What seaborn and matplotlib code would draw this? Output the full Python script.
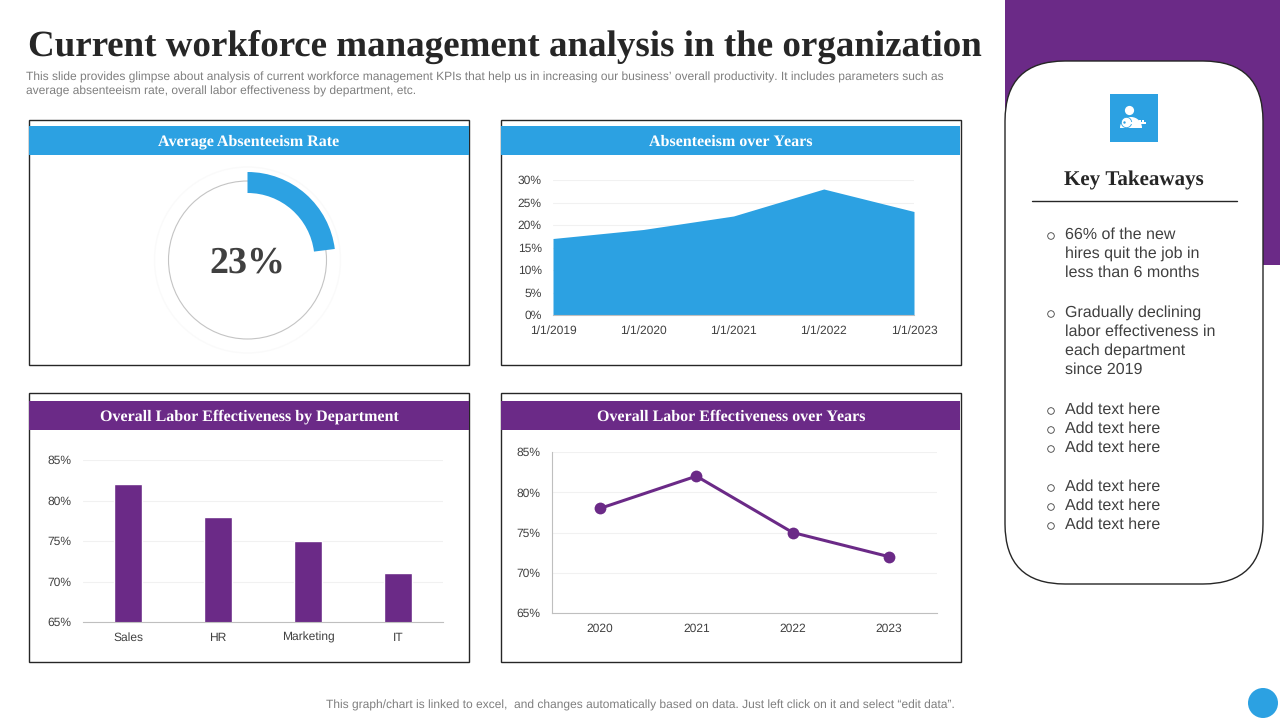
import matplotlib
matplotlib.use("Agg")
import matplotlib.pyplot as plt
from matplotlib.patches import Rectangle, FancyBboxPatch, Circle, Wedge
from matplotlib.ticker import FuncFormatter
import pandas as pd
import seaborn as sns

sns.set_theme(style="white")
plt.rcParams['font.family'] = ['Liberation Sans', 'DejaVu Sans']
plt.rcParams['text.hinting'] = 'no_hinting'
plt.rcParams['text.hinting_factor'] = 1

BLUE = "#2CA1E2"
PURPLE = "#6B2A87"
DARK = "#262626"
GRAY = "#404040"
SOFT = "#7F7F7F"
GRID = "#F1F1F1"
AXLINE = "#BFBFBF"
SERIF = ['Liberation Serif', 'DejaVu Serif']

title = "Current workforce management analysis in the organization"
subtitle = ["This slide provides glimpse about analysis of current workforce management KPIs that help us in increasing our business\u2019 overall productivity. It includes parameters such as",
            "average absenteeism rate, overall labor effectiveness by department, etc."]
footer = "This graph/chart is linked to excel,  and changes automatically based on data. Just left click on it and select \u201cedit data\u201d."

absence_share = [23, 77]
absence_label = "23%"

area_dates = ["1/1/2019", "1/1/2020", "1/1/2021", "1/1/2022", "1/1/2023"]
area_values = [17, 19, 22, 28, 23]

departments = ["Sales", "HR", "Marketing", "IT"]
dept_values = [82, 78, 75, 71]

years = ["2020", "2021", "2022", "2023"]
year_values = [78, 82, 75, 72]

takeaways = [(233, "66% of the new"), (252, "hires quit the job in"), (271, "less than 6 months"),
             (311, "Gradually declining"), (330, "labor effectiveness in"), (349, "each department"), (368, "since 2019"),
             (408, "Add text here"), (427, "Add text here"), (446, "Add text here"),
             (485, "Add text here"), (504, "Add text here"), (523, "Add text here")]
bullet_rows = [233, 311, 408, 427, 446, 485, 504, 523]

W, H = 1280, 720
fig = plt.figure(figsize=(12.8, 7.2), dpi=100, facecolor="white")


def px_axes(left, top, right, bottom, **kw):
    return fig.add_axes([left / W, 1 - bottom / H, (right - left) / W, (bottom - top) / H], **kw)


bg = px_axes(0, 0, W, H)
bg.set_xlim(0, W)
bg.set_ylim(H, 0)
bg.axis("off")

# Title block
bg.text(28, 47, title, family=SERIF, fontweight="bold", fontsize=26.85, color=DARK, va="center", ha="left")
bg.text(26, 77, subtitle[0], fontsize=8.72, color=SOFT, va="center")
bg.text(26, 91, subtitle[1], fontsize=8.72, color=SOFT, va="center")
bg.text(640, 705, footer, fontsize=8.57, color=SOFT, va="center", ha="center")

# Panels
panels = [(29, 120, 469, 365, 126, 155, BLUE, "Average Absenteeism Rate", 249),
          (501, 120, 961, 365, 126, 155, BLUE, "Absenteeism over Years", 731),
          (29, 393, 469, 662, 401, 430, PURPLE, "Overall Labor Effectiveness by Department", 249),
          (501, 393, 961, 662, 401, 430, PURPLE, "Overall Labor Effectiveness over Years", 731)]
for l, t, r, b, ht, hb, col, label, cx in panels:
    bg.add_patch(Rectangle((l, t), r - l, b - t, fc="white", ec=DARK, lw=1.0))
    bg.add_patch(Rectangle((l, ht), r - l - (1 if l > 100 else 0), hb - ht, fc=col, ec="none"))
    bg.text(cx, (ht + hb) / 2 + 1.5, label, family=SERIF, fontweight="bold", fontsize=11.55, color="white",
            ha="center", va="center")

# Side panel
bg.add_patch(Rectangle((1005, 0), 275, 265, fc=PURPLE, ec="none"))
bg.add_patch(FancyBboxPatch((1005 + 50, 61 + 50), 258 - 100, 523 - 100,
                            boxstyle="round,pad=50,rounding_size=60", fc="white", ec=DARK, lw=1.0))
bg.add_patch(Rectangle((1110, 94), 48, 48, fc=BLUE, ec="none"))
bg.add_patch(Circle((1129.5, 110.5), 4.6, fc="white", ec="none"))
bg.add_patch(Wedge((1131, 128), 11, 180, 360, fc="white", ec="none"))
bg.add_patch(Circle((1126.5, 122.5), 5.2, fc="white", ec=BLUE, lw=0.6))
bg.add_patch(Circle((1124.5, 122.5), 1.2, fc=BLUE, ec="none"))
bg.add_patch(Rectangle((1131, 121.5), 15, 2.6, fc="white", ec="none"))
for tooth in (1136, 1139, 1142):
    bg.add_patch(Rectangle((tooth, 119.5), 1.5, 2, fc="white", ec="none"))
bg.text(1134, 180, "Key Takeaways", family=SERIF, fontweight="bold", fontsize=15.2, color=DARK,
        ha="center", va="center")
bg.plot([1032, 1237], [200.5, 200.5], color=DARK, lw=1.0)
for y, line in takeaways:
    bg.text(1065, y + 1.5, line, fontsize=11.35, color=GRAY, va="center", ha="left")
for y in bullet_rows:
    bg.add_patch(Circle((1051, y + 3), 3.3, fc="white", ec=GRAY, lw=0.6))
bg.add_patch(Circle((1263, 703), 15, fc=BLUE, ec="none"))

# Donut
dn = px_axes(147.5, 160, 347.5, 360)
dn.pie(absence_share, startangle=90, counterclock=False, radius=0.88, colors=[BLUE, "none"],
       wedgeprops=dict(width=0.21, linewidth=0))
dn.set_xlim(-1, 1)
dn.set_ylim(-1, 1)
dn.set_aspect("equal")
dn.add_patch(Circle((0, 0), 0.79, fc="none", ec="#C4C4C4", lw=0.8, zorder=0))
dn.add_patch(Circle((0, 0), 0.93, fc="none", ec="#FAFAFA", lw=1.0, zorder=0))
dn.text(0, -0.03, absence_label, family=SERIF, fontweight="bold", fontsize=27.3, color=GRAY,
        ha="center", va="center")


def style(ax, ypad=8, xpad=7.4):
    for s in ("top", "right", "left"):
        ax.spines[s].set_visible(False)
    ax.spines["bottom"].set_color(AXLINE)
    ax.spines["bottom"].set_linewidth(0.8)
    ax.grid(axis="y", color=GRID, lw=0.8)
    ax.grid(axis="x", visible=False)
    ax.set_axisbelow(True)
    ax.set_xlabel("")
    ax.set_ylabel("")
    ax.yaxis.set_major_formatter(FuncFormatter(lambda v, _: f"{v:.0f}%"))
    ax.tick_params(axis="y", length=0, labelsize=8.6, labelcolor=GRAY, pad=ypad)
    ax.tick_params(axis="x", length=0, labelsize=8.6, labelcolor=GRAY, pad=xpad)
    ax.patch.set_alpha(0)


# Area chart
a1 = px_axes(553, 180, 914, 315)
area_df = pd.DataFrame({"date": area_dates, "value": area_values})
sns.lineplot(data=area_df, x="date", y="value", sort=False, color=BLUE, lw=0, ax=a1)
a1.fill_between(range(len(area_values)), area_values, 0, color=BLUE, lw=0)
a1.set_xlim(0, len(area_values) - 1)
a1.set_ylim(0, 30)
a1.set_yticks([0, 5, 10, 15, 20, 25, 30])
style(a1)

# Bar chart
a2 = px_axes(83, 460, 443, 622)
dept_df = pd.DataFrame({"dept": departments, "value": dept_values})
sns.barplot(data=dept_df, x="dept", y="value", color=PURPLE, saturation=1, width=0.32, ax=a2)
a2.set_xlim(-0.5, 3.5)
a2.set_ylim(65, 85)
a2.set_yticks([65, 70, 75, 80, 85])
style(a2, ypad=8)

# Line chart
a3 = px_axes(552, 452, 937, 613)
year_df = pd.DataFrame({"year": years, "value": year_values})
sns.lineplot(data=year_df, x="year", y="value", sort=False, color=PURPLE, lw=2.2, marker="o", ms=8.5,
             markeredgewidth=0, ax=a3)
a3.set_xlim(-0.5, 3.5)
a3.set_ylim(65, 85)
a3.set_yticks([65, 70, 75, 80, 85])
style(a3)
a3.spines["left"].set_visible(True)
a3.spines["left"].set_color(AXLINE)
a3.spines["left"].set_linewidth(0.8)

fig.savefig("out.png", dpi=100, facecolor="white")
